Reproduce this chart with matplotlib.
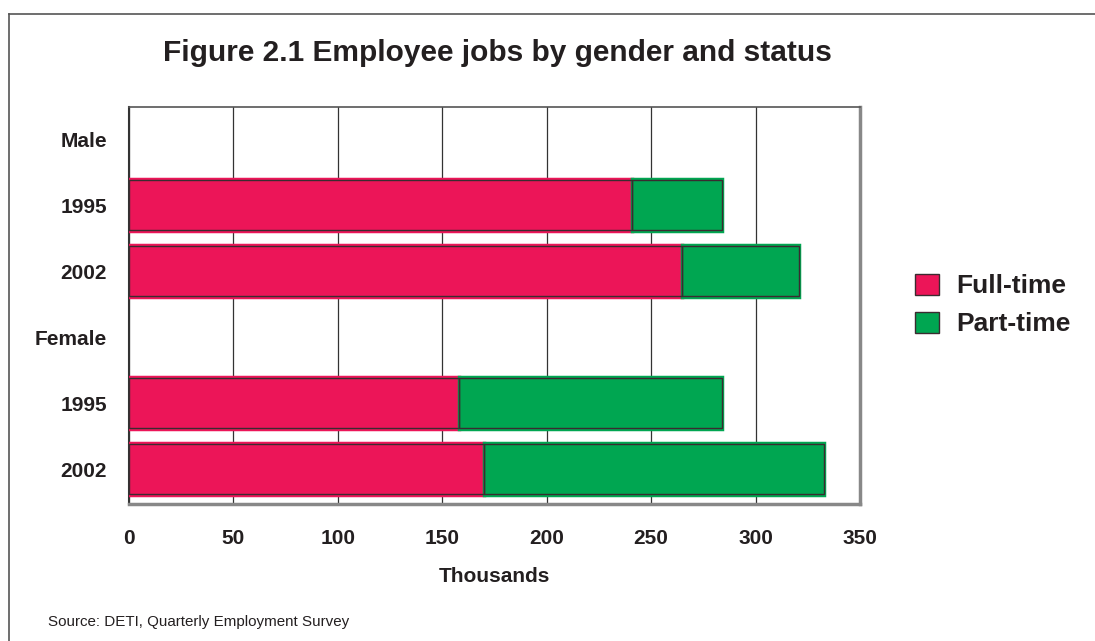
import numpy as np
import matplotlib.pyplot as plt
from matplotlib.lines import Line2D

plt.rcParams['font.family'] = ['Liberation Sans', 'DejaVu Sans']

# rows top to bottom; group headers carry no bars
row_labels = ['Male', '1995', '2002', 'Female', '1995', '2002']
bar_rows = [1, 2, 4, 5]
full_time = [241, 265, 158, 170]
part_time = [43, 56, 126, 163]

pink = '#EC1558'
green = '#00A651'
edge = '#3b2b30'
text_col = '#231f20'

fig = plt.figure(figsize=(10.95, 6.41), dpi=100)
W, H = 1095, 641
ax = fig.add_axes([129 / W, 1 - 504 / H, 731 / W, 397 / H])

y = np.array(bar_rows)
h = 0.78
# coloured outer rim, then a dark inner outline
ax.barh(y, full_time, height=h, color=pink, edgecolor=pink, linewidth=2.5, zorder=3)
ax.barh(y, part_time, left=full_time, height=h, color=green, edgecolor=green,
        linewidth=2.5, zorder=3)
ax.barh(y, full_time, height=h - 0.03, color='none', edgecolor=edge, linewidth=1, zorder=4)
ax.barh(y, part_time, left=full_time, height=h - 0.03, color='none', edgecolor=edge,
        linewidth=1, zorder=4)

ax.set_xlim(0, 350)
ax.set_ylim(5.53, -0.485)
ax.set_xticks(np.arange(0, 351, 50))
ax.set_yticks(range(len(row_labels)))
ax.set_yticklabels(row_labels)
ax.tick_params(axis='x', length=0, pad=18, labelsize=15)
ax.tick_params(axis='y', length=0, pad=16, labelsize=15)
for lbl in ax.get_xticklabels() + ax.get_yticklabels():
    lbl.set_fontweight('bold')
    lbl.set_color(text_col)
ax.xaxis.grid(True, color='#333333', linewidth=0.9)
ax.set_axisbelow(True)

ax.spines['left'].set_color('#333333')
ax.spines['left'].set_linewidth(1.5)
ax.spines['top'].set_color('#555555')
ax.spines['top'].set_linewidth(1.2)
ax.spines['right'].set_color('#888888')
ax.spines['right'].set_linewidth(2.5)
ax.spines['bottom'].set_color('#888888')
ax.spines['bottom'].set_linewidth(2.5)

ax.set_xlabel('Thousands', fontsize=15, fontweight='bold', color=text_col, labelpad=14)

fig.text(497 / W, 1 - 53 / H, 'Figure 2.1 Employee jobs by gender and status',
         ha='center', va='center', fontsize=21.5, fontweight='bold', color=text_col)
fig.text(48 / W, 1 - 622 / H, 'Source: DETI, Quarterly Employment Survey',
         ha='left', va='center', fontsize=10.9, color=text_col)

# legend: square swatches with bold labels
handles = [plt.Rectangle((0, 0), 1, 1, facecolor=c, edgecolor=edge, linewidth=1)
           for c in (pink, green)]
leg = fig.legend(handles, ['Full-time', 'Part-time'], loc='center left',
                 bbox_to_anchor=(899 / W, 1 - 305 / H), frameon=False,
                 prop={'weight': 'bold', 'size': 19}, handlelength=0.9,
                 handleheight=0.85, handletextpad=0.68, labelspacing=0.5,
                 borderpad=0.1)
for t in leg.get_texts():
    t.set_color(text_col)

# outer frame: left and top edges
fig.add_artist(Line2D([9 / W, 9 / W], [0, 1 - 14 / H], transform=fig.transFigure,
                      color='#555555', linewidth=1.2))
fig.add_artist(Line2D([9 / W, 1], [1 - 14 / H, 1 - 14 / H], transform=fig.transFigure,
                      color='#555555', linewidth=1.2))

fig.savefig('out.png', dpi=100)
